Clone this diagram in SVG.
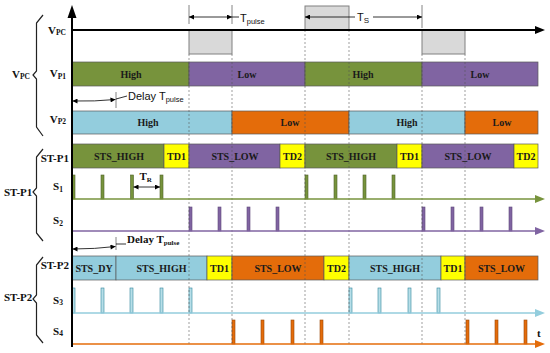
<svg xmlns="http://www.w3.org/2000/svg" width="550" height="353" viewBox="0 0 550 353">
<defs>
<marker id="ah" viewBox="0 0 10 10" refX="10" refY="5" markerWidth="7" markerHeight="5" markerUnits="userSpaceOnUse" orient="auto-start-reverse"><path d="M0,0 L10,5 L0,10 z" fill="#000"/></marker>
<style>
.bar{stroke:#5a5a5a;stroke-width:0.7}
.g{fill:#77933C}.p{fill:#8064A2}.b{fill:#93CDDD}.o{fill:#E46C0A}.y{fill:#FFFF00}
.gr{fill:#D9D9D9;stroke:#808080;stroke-width:1}
.t{font-family:"Liberation Serif",serif;font-weight:bold;font-size:10px;fill:#1a1a1a;text-anchor:middle}
.lb{font-family:"Liberation Serif",serif;font-weight:bold;font-size:11px;fill:#111}
.a{font-family:"Liberation Sans",Arial,sans-serif;font-size:11px;fill:#111}
.dash{stroke:#555;stroke-width:0.7;stroke-dasharray:2 2;fill:none;opacity:0.8}
.dim{stroke:#000;stroke-width:0.8;fill:none}
.tick{stroke:#666;stroke-width:0.8;fill:none}
.brace{stroke:#222;stroke-width:1.2;fill:none}
.pg{fill:#77933C;stroke:#4F6228;stroke-width:0.6}
.pp{fill:#8064A2;stroke:#5F497A;stroke-width:0.6}
.pb{fill:#B7DEE8;stroke:#31859C;stroke-width:0.6}
.po{fill:#E46C0A;stroke:#984807;stroke-width:0.6}
</style>
</defs>
<rect width="550" height="353" fill="#fff"/>

<g id="labels">
<path class="brace" d="M43,15 L36.5,23 L36.5,71 L33,75 L36.5,79 L36.5,127 L43,136"/>
<text class="lb" x="12" y="77.5">V<tspan font-size="7.5" dy="1.5">PC</tspan></text>
<text class="lb" x="66" y="33.5" text-anchor="end">V<tspan font-size="7.5" dy="1.5">PC</tspan></text>
<text class="lb" x="66" y="77" text-anchor="end">V<tspan font-size="7.5" dy="1.5">P1</tspan></text>
<text class="lb" x="66" y="122.5" text-anchor="end">V<tspan font-size="7.5" dy="1.5">P2</tspan></text>

<path class="brace" d="M43,149 L36.5,157 L36.5,188 L33,192 L36.5,196 L36.5,233 L43,241"/>
<text class="lb" x="4" y="195.5">ST-P1</text>
<text class="lb" x="69" y="161.5" text-anchor="end">ST-P1</text>
<text class="lb" x="53" y="190">S<tspan font-size="7.5" dy="1.5">1</tspan></text>
<text class="lb" x="53" y="224">S<tspan font-size="7.5" dy="1.5">2</tspan></text>

<path class="brace" d="M43,257 L36.5,265 L36.5,295 L33,299 L36.5,303 L36.5,335 L43,343"/>
<text class="lb" x="4" y="301">ST-P2</text>
<text class="lb" x="69" y="268.5" text-anchor="end">ST-P2</text>
<text class="lb" x="53" y="303.5">S<tspan font-size="7.5" dy="1.5">3</tspan></text>
<text class="lb" x="53" y="334.5">S<tspan font-size="7.5" dy="1.5">4</tspan></text>
<text class="lb" x="537" y="337">t</text>
</g>

<g id="vpc">
<rect class="gr" x="189" y="30" width="43" height="24"/>
<rect class="gr" x="305" y="6" width="44" height="24"/>
<rect class="gr" x="422" y="30" width="43" height="24"/>
</g>

<g id="vp1">
<rect class="bar g" x="72" y="62" width="117" height="24"/>
<rect class="bar p" x="189" y="62" width="116" height="24"/>
<rect class="bar g" x="305" y="62" width="117" height="24"/>
<rect class="bar p" x="422" y="62" width="116" height="24"/>
<text class="t" x="131" y="77.5">High</text>
<text class="t" x="247" y="77.5">Low</text>
<text class="t" x="363" y="77.5">High</text>
<text class="t" x="480" y="77.5">Low</text>
</g>

<g id="vp2">
<rect class="bar b" x="72" y="111" width="160" height="23"/>
<rect class="bar o" x="232" y="111" width="117" height="23"/>
<rect class="bar b" x="349" y="111" width="116" height="23"/>
<rect class="bar o" x="465" y="111" width="73" height="23"/>
<text class="t" x="148" y="126">High</text>
<text class="t" x="290" y="126">Low</text>
<text class="t" x="407" y="126">High</text>
<text class="t" x="502" y="126">Low</text>
</g>

<g id="stp1">
<rect class="bar g" x="72" y="144" width="92" height="24"/>
<rect class="bar y" x="164" y="144" width="25" height="24"/>
<rect class="bar p" x="189" y="144" width="91" height="24"/>
<rect class="bar y" x="280" y="144" width="25" height="24"/>
<rect class="bar g" x="305" y="144" width="92" height="24"/>
<rect class="bar y" x="397" y="144" width="25" height="24"/>
<rect class="bar p" x="422" y="144" width="92" height="24"/>
<rect class="bar y" x="514" y="144" width="24" height="24"/>
<text class="t" x="119" y="159.5">STS_HIGH</text>
<text class="t" x="176.5" y="159.5">TD1</text>
<text class="t" x="235" y="159.5">STS_LOW</text>
<text class="t" x="292.5" y="159.5">TD2</text>
<text class="t" x="351" y="159.5">STS_HIGH</text>
<text class="t" x="409.5" y="159.5">TD1</text>
<text class="t" x="468" y="159.5">STS_LOW</text>
<text class="t" x="526" y="159.5">TD2</text>
</g>

<g id="stp2">
<rect class="bar b" x="72" y="256" width="44" height="24"/>
<rect class="bar b" x="116" y="256" width="91" height="24"/>
<rect class="bar y" x="207" y="256" width="25" height="24"/>
<rect class="bar o" x="232" y="256" width="92" height="24"/>
<rect class="bar y" x="324" y="256" width="25" height="24"/>
<rect class="bar b" x="349" y="256" width="92" height="24"/>
<rect class="bar y" x="441" y="256" width="24" height="24"/>
<rect class="bar o" x="465" y="256" width="73" height="24"/>
<text class="t" x="94" y="271.5">STS_DY</text>
<text class="t" x="161.5" y="271.5">STS_HIGH</text>
<text class="t" x="219.5" y="271.5">TD1</text>
<text class="t" x="278" y="271.5">STS_LOW</text>
<text class="t" x="336.5" y="271.5">TD2</text>
<text class="t" x="395" y="271.5">STS_HIGH</text>
<text class="t" x="453" y="271.5">TD1</text>
<text class="t" x="501.5" y="271.5">STS_LOW</text>
</g>

<g id="s1">
<rect class="pg" x="72" y="175" width="3" height="24"/>
<rect class="pg" x="101" y="175" width="3" height="24"/>
<rect class="pg" x="130.5" y="175" width="3" height="24"/>
<rect class="pg" x="160" y="175" width="3" height="24"/>
<rect class="pg" x="305" y="175" width="3" height="24"/>
<rect class="pg" x="334" y="175" width="3" height="24"/>
<rect class="pg" x="363" y="175" width="3" height="24"/>
<rect class="pg" x="392" y="175" width="3" height="24"/>
</g>
<g id="s2">
<rect class="pp" x="189" y="207" width="3" height="24"/>
<rect class="pp" x="218" y="207" width="3" height="24"/>
<rect class="pp" x="247" y="207" width="3" height="24"/>
<rect class="pp" x="276" y="207" width="3" height="24"/>
<rect class="pp" x="422" y="207" width="3" height="24"/>
<rect class="pp" x="451" y="207" width="3" height="24"/>
<rect class="pp" x="480" y="207" width="3" height="24"/>
<rect class="pp" x="509" y="207" width="3" height="24"/>
</g>
<g id="s3">
<rect class="pb" x="72" y="288" width="3" height="25"/>
<rect class="pb" x="101" y="288" width="3" height="25"/>
<rect class="pb" x="130" y="288" width="3" height="25"/>
<rect class="pb" x="160" y="288" width="3" height="25"/>
<rect class="pb" x="189" y="288" width="3" height="25"/>
<rect class="pb" x="349" y="288" width="3" height="25"/>
<rect class="pb" x="378" y="288" width="3" height="25"/>
<rect class="pb" x="408" y="288" width="3" height="25"/>
<rect class="pb" x="437" y="288" width="3" height="25"/>
</g>
<g id="s4">
<rect class="po" x="232" y="320" width="3" height="24"/>
<rect class="po" x="261" y="320" width="3" height="24"/>
<rect class="po" x="291" y="320" width="3" height="24"/>
<rect class="po" x="320" y="320" width="3" height="24"/>
<rect class="po" x="466" y="320" width="3" height="24"/>
<rect class="po" x="495" y="320" width="3" height="24"/>
<rect class="po" x="524" y="320" width="3" height="24"/>
</g>

<g id="connectors">
<path class="dash" d="M189,54 V344 M232,54 V344 M305,30 V344 M349,30 V344 M422,54 V344 M465,54 V344"/>
<line x1="72" y1="30" x2="536" y2="30" stroke="#000" stroke-width="1.8"/>
<polygon points="545,30 535,26 535,34" fill="#000"/>
<line x1="72" y1="199" x2="536" y2="199" stroke="#77933C" stroke-width="1.6"/>
<polygon points="545,199 535,195 535,203" fill="#77933C"/>
<line x1="72" y1="231" x2="536" y2="231" stroke="#8064A2" stroke-width="1.6"/>
<polygon points="545,231 535,227 535,235" fill="#8064A2"/>
<line x1="72" y1="313" x2="536" y2="313" stroke="#93CDDD" stroke-width="1.6"/>
<polygon points="545,313 535,309 535,317" fill="#93CDDD"/>
<line x1="72" y1="344" x2="536" y2="344" stroke="#E46C0A" stroke-width="1.6"/>
<polygon points="545,344 535,340 535,348" fill="#E46C0A"/>
<line x1="72" y1="16" x2="72" y2="347" stroke="#000" stroke-width="2"/>
<polygon points="72,5 67.5,18 76.5,18" fill="#000"/>

<path class="tick" d="M189,5 V24 M232,5 V24 M422,5 V28 M116,92 V108 M116,237 V250"/>
<line class="dim" x1="189" y1="17" x2="232" y2="17" marker-start="url(#ah)" marker-end="url(#ah)"/>
<line class="dim" x1="232" y1="17" x2="239" y2="17"/>
<line class="dim" x1="305" y1="17" x2="355" y2="17" marker-start="url(#ah)"/>
<line class="dim" x1="373" y1="17" x2="422" y2="17" marker-end="url(#ah)"/>
<line class="dim" x1="133.5" y1="187" x2="160" y2="187" marker-start="url(#ah)" marker-end="url(#ah)"/>
<path class="dim" d="M72.5,101 Q95,101.5 115.5,99.5" marker-start="url(#ah)" marker-end="url(#ah)"/>
<path class="dim" d="M116,99 L127,96"/>
<path class="dim" d="M72.5,249 Q95,249 115.5,246.5" marker-start="url(#ah)" marker-end="url(#ah)"/>
<path class="dim" d="M116,244 L126,244"/>
</g>

<g id="dim-labels">
<text class="a" x="240" y="22">T<tspan font-size="7.5" dy="2">pulse</tspan></text>
<text class="a" x="357" y="21">T<tspan font-size="8" dy="2">S</tspan></text>
<text class="a" x="128" y="100">Delay T<tspan font-size="7.5" dy="2">pulse</tspan></text>
<text class="lb" x="139.5" y="180" font-size="10">T<tspan font-size="7" dy="1.5">R</tspan></text>
<text class="lb" x="127" y="243" font-size="10">Delay T<tspan font-size="7" dy="1.5">pulse</tspan></text>
</g>
</svg>
